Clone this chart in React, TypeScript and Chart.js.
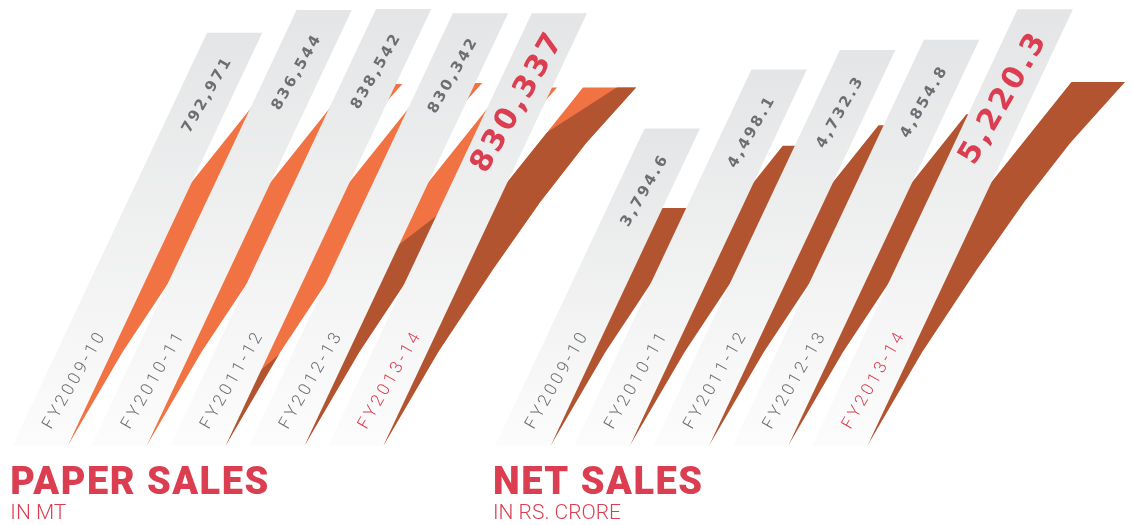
import React, { useEffect, useRef } from "react";
import { Chart, registerables } from "chart.js";

Chart.register(...registerables);

// ---------------- data ----------------
const years = ["FY2009-10", "FY2010-11", "FY2011-12", "FY2012-13", "FY2013-14"];
const paperSales = [792971, 836544, 838542, 830342, 830337]; // in MT
const netSales = [3794.6, 4498.1, 4732.3, 4854.8, 5220.3]; // in Rs. crore
const paperTitle = "PAPER SALES";
const paperUnit = "IN MT";
const netTitle = "NET SALES";
const netUnit = "IN RS. CRORE";

// ---------------- style ----------------
const SKEW = 0.471; // horizontal shift per pixel of height
const TEXT_ANGLE = (-60 * Math.PI) / 180;
const RED = "#dc3e51";
const GRAY_TEXT = "#6d6e71";
const ORANGE = "#f17242";
const BROWN = "#b35431";
const BAR_TOP = "#e4e5e6";
const BAR_BOTTOM = "#fcfcfc";

// swoosh profile (dx, height) measured from the tip, in px
const RIGHT_EDGE: [number, number][] = [
  [0, 0],
  [55, 94],
  [110, 177],
  [157, 244],
  [203, 303],
  [256, 362],
  [300, 410],
  [340, 450],
];

function rightX(h: number): number {
  for (let i = 1; i < RIGHT_EDGE.length; i++) {
    const [x0, h0] = RIGHT_EDGE[i - 1];
    const [x1, h1] = RIGHT_EDGE[i];
    if (h <= h1) return x0 + ((x1 - x0) * (h - h0)) / (h1 - h0);
  }
  return RIGHT_EDGE[RIGHT_EDGE.length - 1][0];
}

function swooshPath(tx: number, by: number, H: number): Path2D {
  const p = new Path2D();
  p.moveTo(tx, by);
  const hk = 87 / 0.35;
  if (H > hk) {
    p.lineTo(tx + 0.45 * hk, by - hk);
    p.lineTo(tx + 0.8 * H - 87, by - H);
  } else {
    p.lineTo(tx + 0.45 * H, by - H);
  }
  p.lineTo(tx + rightX(H), by - H);
  for (let i = RIGHT_EDGE.length - 1; i >= 0; i--) {
    const [dx, h] = RIGHT_EDGE[i];
    if (h < H && h > 0) p.lineTo(tx + dx, by - h);
  }
  p.closePath();
  return p;
}

const fmt = (v: number) =>
  v.toLocaleString("en-US", { maximumFractionDigits: 1, minimumFractionDigits: v % 1 ? 1 : 0 });

type Cfg = {
  values: number[];
  grayMax: number;
  swMin: number;
  swMax: number;
  padLeft: number;
  padRight: number;
  title: string;
  unit: string;
  twoTone: boolean;
};

function makePlugin(cfg: Cfg) {
  return {
    id: "skewedRibbons",
    beforeDatasetDraw(chart: any, args: any) {
      const ctx = chart.ctx as CanvasRenderingContext2D;
      const base = chart.chartArea.bottom;
      if (args.index === 1) {
        const els = args.meta.data;
        const paths = els.map((el: any) => swooshPath(el.x + el.width / 2, el.base, el.base - el.y));
        ctx.save();
        ctx.fillStyle = cfg.twoTone ? ORANGE : BROWN;
        paths.forEach((p: Path2D) => ctx.fill(p));
        if (cfg.twoTone) {
          const L = chart.chartArea.left;
          const pts: [number, number][] = [
            [190, 432],
            [257, 373],
            [287, 347],
            [398, 245],
            [437, 215],
            [547, 132],
            [617, 87],
            [700, 25],
          ];
          ctx.beginPath();
          pts.forEach(([x, y], i) => (i ? ctx.lineTo(L + x, y) : ctx.moveTo(L + x, y)));
          ctx.lineTo(L + 800, 25);
          ctx.lineTo(L + 800, base + 20);
          ctx.lineTo(L + 190, base + 20);
          ctx.closePath();
          ctx.clip();
          ctx.fillStyle = BROWN;
          paths.forEach((p: Path2D) => ctx.fill(p));
        }
        ctx.restore();
        return false;
      }
      if (args.index === 0) {
        ctx.save();
        ctx.transform(1, 0, -SKEW, 1, SKEW * base, 0);
      }
      return true;
    },
    afterDatasetDraw(chart: any, args: any) {
      if (args.index === 0) chart.ctx.restore();
    },
    afterDatasetsDraw(chart: any) {
      const ctx = chart.ctx as CanvasRenderingContext2D;
      const meta = chart.getDatasetMeta(0);
      const n = meta.data.length;
      meta.data.forEach((el: any, i: number) => {
        const base = el.base;
        const top = el.y;
        const bx = el.x;
        const tx = el.x + SKEW * (base - top);
        const last = i === n - 1;
        // category label
        ctx.save();
        ctx.translate(bx + 11, base - 16);
        ctx.rotate(TEXT_ANGLE);
        ctx.font = "300 17px Roboto";
        (ctx as any).letterSpacing = "3.3px";
        ctx.fillStyle = last ? RED : GRAY_TEXT;
        ctx.textAlign = "left";
        ctx.textBaseline = "alphabetic";
        ctx.fillText(chart.data.labels[i], 0, 0);
        ctx.restore();
        // value label
        ctx.save();
        if (last) {
          ctx.translate(tx - 41, top + 89);
          ctx.font = 'bold 30px "DejaVu Sans"';
          (ctx as any).letterSpacing = "3px";
          ctx.fillStyle = RED;
        } else {
          ctx.translate(tx - 27, top + 62);
          ctx.font = 'bold 15px "DejaVu Sans"';
          (ctx as any).letterSpacing = "2.5px";
          ctx.fillStyle = GRAY_TEXT;
        }
        ctx.rotate(TEXT_ANGLE);
        ctx.textAlign = "center";
        ctx.textBaseline = "middle";
        ctx.fillText(fmt(cfg.values[i]), 0, 0);
        ctx.restore();
      });
      // title + unit
      const first = meta.data[0];
      const x0 = first.x - first.width / 2 - 2;
      ctx.save();
      ctx.fillStyle = RED;
      ctx.textAlign = "left";
      ctx.textBaseline = "alphabetic";
      ctx.font = "900 38px Roboto";
      (ctx as any).letterSpacing = "1.5px";
      ctx.fillText(cfg.title, x0, 494);
      ctx.font = "300 21px Roboto";
      (ctx as any).letterSpacing = "0px";
      ctx.fillText(cfg.unit, x0, 519);
      ctx.restore();
    },
  };
}

function buildConfig(cfg: Cfg): any {
  return {
    type: "bar",
    data: {
      labels: years,
      datasets: [
        {
          label: "ribbon",
          data: cfg.values,
          yAxisID: "y",
          grouped: false,
          order: 0,
          barPercentage: 0.7,
          categoryPercentage: 1,
          borderWidth: 0,
          base: 0,
          backgroundColor: (c: any) => {
            const chart = c.chart;
            const area = chart.chartArea;
            if (!area || c.type !== "data") return BAR_TOP;
            const yTop = chart.scales.y.getPixelForValue(c.raw);
            const g = chart.ctx.createLinearGradient(0, yTop, 0, area.bottom);
            g.addColorStop(0, BAR_TOP);
            g.addColorStop(1, BAR_BOTTOM);
            return g;
          },
        },
        {
          label: "swoosh",
          data: cfg.values,
          yAxisID: "y2",
          grouped: false,
          order: 1,
          barPercentage: 0.7,
          categoryPercentage: 1,
          borderWidth: 0,
          base: cfg.swMin,
          backgroundColor: "rgba(0,0,0,0)",
        },
      ],
    },
    options: {
      responsive: false,
      animation: false,
      events: [],
      layout: { padding: { left: cfg.padLeft, right: cfg.padRight, top: 0, bottom: 79 } },
      scales: {
        x: { display: false },
        y: { display: false, beginAtZero: false, min: 0, max: cfg.grayMax },
        y2: { display: false, beginAtZero: false, min: cfg.swMin, max: cfg.swMax, position: "right" },
      },
      plugins: {
        legend: { display: false },
        tooltip: { enabled: false },
        title: { display: false },
      },
    },
    plugins: [makePlugin(cfg)],
  };
}

export default function App() {
  const paperRef = useRef<HTMLCanvasElement>(null);
  const netRef = useRef<HTMLCanvasElement>(null);

  useEffect(() => {
    const c1 = new Chart(
      paperRef.current as HTMLCanvasElement,
      buildConfig({
        values: paperSales,
        grayMax: 855700,
        swMin: 180000,
        swMax: 989000,
        padLeft: 0.5,
        padRight: 738,
        title: paperTitle,
        unit: paperUnit,
        twoTone: true,
      })
    );
    const c2 = new Chart(
      netRef.current as HTMLCanvasElement,
      buildConfig({
        values: netSales,
        grayMax: 5330,
        swMin: 1102,
        swMax: 6148,
        padLeft: 483.1,
        padRight: 253.9,
        title: netTitle,
        unit: netUnit,
        twoTone: false,
      })
    );
    return () => {
      c1.destroy();
      c2.destroy();
    };
  }, []);

  return (
    <div style={{ position: "absolute", left: 0, top: 0, width: 1133, height: 525, background: "#ffffff" }}>
      <canvas ref={paperRef} width={1133} height={525} style={{ position: "absolute", left: 0, top: 0 }} />
      <canvas ref={netRef} width={1133} height={525} style={{ position: "absolute", left: 0, top: 0 }} />
    </div>
  );
}
